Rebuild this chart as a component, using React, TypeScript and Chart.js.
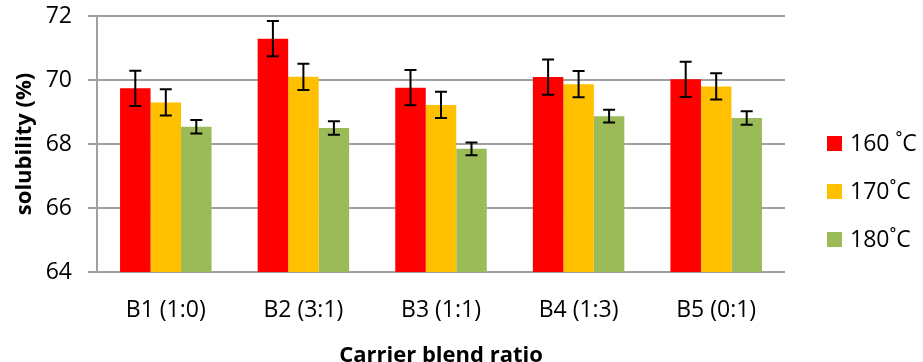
import React, { useEffect, useRef } from "react";
import { Chart, registerables } from "chart.js";

Chart.register(...registerables);

const categories = ["B1 (1:0)", "B2 (3:1)", "B3 (1:1)", "B4 (1:3)", "B5 (0:1)"];
const seriesLabels = ["160 \u02DAC", "170\u02DAC", "180\u02DAC"];
const seriesColors = ["#FF0000", "#FFC000", "#9BBB59"];
const values160 = [69.74, 71.29, 69.76, 70.09, 70.02];
const values170 = [69.3, 70.1, 69.22, 69.87, 69.8];
const values180 = [68.54, 68.5, 67.85, 68.87, 68.81];
const err160 = [0.55, 0.55, 0.55, 0.55, 0.55];
const err170 = [0.41, 0.41, 0.41, 0.41, 0.41];
const err180 = [0.21, 0.21, 0.2, 0.2, 0.21];
const yTicks = [64, 66, 68, 70, 72];

const FONT = "'Open Sans', 'Liberation Sans', sans-serif";

const errorBarPlugin = {
  id: "errorBars",
  afterDatasetsDraw(chart: any) {
    const ctx = chart.ctx;
    const yScale = chart.scales.y;
    ctx.save();
    ctx.strokeStyle = "#000000";
    ctx.lineWidth = 2;
    chart.data.datasets.forEach((ds: any, i: number) => {
      const meta = chart.getDatasetMeta(i);
      meta.data.forEach((bar: any, j: number) => {
        const v = ds.data[j];
        const e = ds.errors[j];
        const x = bar.x;
        const yTop = yScale.getPixelForValue(v + e);
        const yBot = yScale.getPixelForValue(v - e);
        const cap = 6;
        ctx.beginPath();
        ctx.moveTo(x, yTop);
        ctx.lineTo(x, yBot);
        ctx.moveTo(x - cap, yTop);
        ctx.lineTo(x + cap, yTop);
        ctx.moveTo(x - cap, yBot);
        ctx.lineTo(x + cap, yBot);
        ctx.stroke();
      });
    });
    ctx.restore();
  },
};

const legendPlugin = {
  id: "customLegend",
  afterDraw(chart: any) {
    const ctx = chart.ctx;
    ctx.save();
    const rows = [143.5, 191.5, 239.5];
    ctx.font = `23px ${FONT}`;
    ctx.textBaseline = "middle";
    ctx.textAlign = "left";
    chart.data.datasets.forEach((ds: any, i: number) => {
      const cy = rows[i];
      ctx.fillStyle = ds.backgroundColor;
      ctx.fillRect(827, cy - 7.5, 15, 15);
      ctx.fillStyle = "#000000";
      ctx.fillText(ds.label, 850, cy + 1);
    });
    ctx.restore();
  },
};

export default function App() {
  const ref = useRef<HTMLCanvasElement>(null);
  useEffect(() => {
    if (!ref.current) return;
    const allValues = [values160, values170, values180];
    const allErrors = [err160, err170, err180];
    const chart = new Chart(ref.current, {
      type: "bar",
      data: {
        labels: categories,
        datasets: seriesLabels.map((label, i) => ({
          label,
          data: allValues[i],
          errors: allErrors[i],
          backgroundColor: seriesColors[i],
          borderWidth: 0,
          barPercentage: 1,
          categoryPercentage: 0.665,
        })) as any,
      },
      options: {
        animation: false,
        responsive: false,
        layout: { padding: { top: 16, right: 138, left: 0, bottom: 0 } },
        plugins: {
          legend: { display: false },
          tooltip: { enabled: false },
        },
        scales: {
          x: {
            grid: { display: false, drawTicks: false },
            border: { display: false },
            ticks: {
              color: "#000000",
              font: { family: FONT, size: 23 },
              padding: 25,
            },
            title: {
              display: true,
              text: "Carrier blend ratio",
              color: "#000000",
              font: { family: FONT, size: 22, weight: "bold", lineHeight: 0.6 },
              padding: 0,
            },
            afterFit: (s: any) => {
              s.height = 90;
            },
          },
          y: {
            min: 64,
            max: 72,
            afterBuildTicks: (s: any) => {
              s.ticks = yTicks.map((v) => ({ value: v }));
            },
            grid: {
              color: "#A0A0A0",
              lineWidth: 2,
              tickLength: 9,
              drawTicks: true,
            },
            border: { display: true, color: "#A0A0A0", width: 2 },
            ticks: {
              color: "#000000",
              font: { family: FONT, size: 23 },
              padding: 16,
            },
            title: {
              display: true,
              text: "solubility (%)",
              color: "#000000",
              font: { family: FONT, size: 22, weight: "bold" },
              padding: { top: 12, bottom: 0 },
            },
            afterFit: (s: any) => {
              s.width = 97;
              s.paddingTop = 0;
              s.paddingBottom = 0;
            },
          },
        },
      },
      plugins: [errorBarPlugin, legendPlugin],
    });
    return () => chart.destroy();
  }, []);
  return (
    <div style={{ position: "absolute", left: 0, top: 0, width: 923, height: 362, background: "#ffffff" }}>
      <canvas ref={ref} width={923} height={362} />
    </div>
  );
}
